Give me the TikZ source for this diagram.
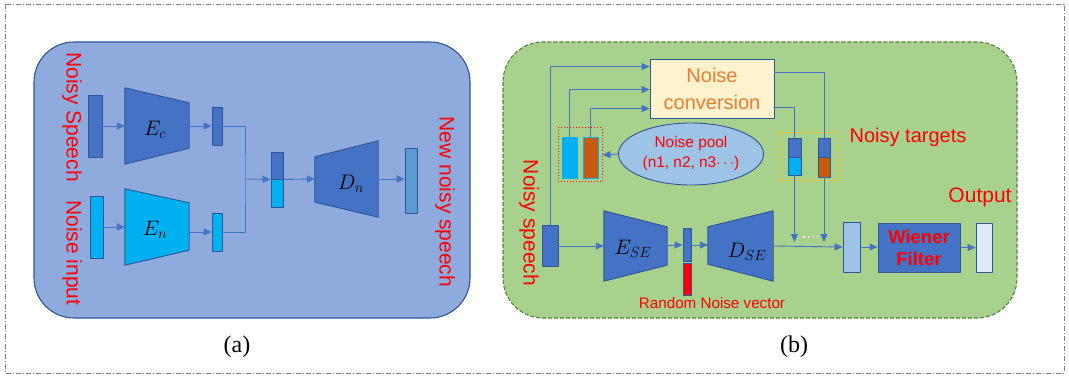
\RequirePackage{fix-cm}
\documentclass[tikz,border=0pt]{standalone}
\usepackage{fontspec}
\setmainfont{Liberation Sans}
\newfontfamily\serfont{Liberation Serif}
\usetikzlibrary{arrows.meta,calc,shapes.geometric}
\definecolor{blueA}{HTML}{4472C4}
\definecolor{bdr}{HTML}{2F5597}
\definecolor{cyanA}{HTML}{00B0F0}
\definecolor{panelA}{HTML}{8FAADC}
\definecolor{panelB}{HTML}{A9D18E}
\definecolor{panelBd}{HTML}{548235}
\definecolor{outA}{HTML}{5B9BD5}
\definecolor{orangeA}{HTML}{C55A11}
\definecolor{convfill}{HTML}{FFF2CC}
\definecolor{convtext}{HTML}{ED7D31}
\definecolor{lblue}{HTML}{9DC3E6}
\definecolor{vlblue}{HTML}{DEEBF7}
\definecolor{yellowA}{HTML}{FFC000}
\definecolor{redA}{HTML}{FF0000}
\definecolor{frame}{HTML}{808080}
\tikzset{
  bar/.style={draw=bdr, line width=0.9pt, inner sep=0pt},
  trap/.style={inner sep=0pt, minimum width=#1},
  conn/.style={draw=blueA, line width=0.9pt},
  arr/.style={conn, -{Triangle[length=8pt,width=7pt]}},
  redtxt/.style={text=redA, inner sep=0pt},
  rottxt/.style={redtxt, rotate=-90, font=\fontsize{21}{24}\selectfont},
  mlabel/.style={inner sep=0pt, font=\fontsize{21}{24}\selectfont},
}
\begin{document}
\begin{tikzpicture}[x=1pt,y=-1pt,line join=round]
\useasboundingbox (0,0) rectangle (1069,377);
% outer frame
\draw[frame, line width=0.8pt, dash pattern=on 5pt off 2pt on 1pt off 2pt] (5,4) rectangle (1064,373);

% ================= panel (a) =================
\draw[fill=panelA, draw=bdr, line width=1.1pt, rounded corners=40pt] (34,42) rectangle (470,318);
\node[rottxt] (tns) at (72,117) {Noisy Speech};
\node[rottxt] (tni) at (72,253) {Noise input};
\node[rottxt] (tnn) at (445,202) {New noisy speech};

\node[bar, fill=blueA, minimum width=14pt, minimum height=62pt] (ns) at (95,126) {};
\node[bar, fill=cyanA, minimum width=13pt, minimum height=62pt] (ni) at (96.5,227) {};

\node[trap=64pt, minimum height=76pt] (ec) at (157,126) {};
\draw[fill=blueA, draw=bdr, line width=0.9pt] (ec.north west) -- ([yshift=-15pt]ec.north east) -- ([yshift=16pt]ec.south east) -- (ec.south west) -- cycle;
\node[mlabel] (ecl) at (155,130) {$E_c$};

\node[trap=64pt, minimum height=76pt] (en) at (157,227) {};
\draw[fill=cyanA, draw=bdr, line width=0.9pt] (en.north west) -- ([yshift=-14pt]en.north east) -- ([yshift=15pt]en.south east) -- (en.south west) -- cycle;
\node[mlabel] (enl) at (155,230) {$E_n$};

\node[bar, fill=blueA, minimum width=10pt, minimum height=38pt] (zc) at (217,126) {};
\node[bar, fill=cyanA, minimum width=10pt, minimum height=38pt] (zn) at (217,232) {};

\node[bar, fill=blueA, minimum width=12pt, minimum height=27pt] (cc1) at (277,165.5) {};
\node[bar, fill=cyanA, minimum width=12pt, minimum height=28pt] (cc2) at (277,193) {};

\node[trap=63pt, minimum height=76pt] (dn) at (346.5,179) {};
\draw[fill=blueA, draw=bdr, line width=0.9pt] ([yshift=-16pt]dn.north west) -- (dn.north east) -- (dn.south east) -- ([yshift=15pt]dn.south west) -- cycle;
\node[mlabel] (dnl) at (351,184) {$D_n$};

\node[bar, fill=outA, minimum width=12pt, minimum height=65pt] (oa) at (411,180.5) {};

\coordinate (j) at (245,179);
\draw[arr] (ns.east) -- (ec.west |- ns.east);
\draw[arr] (ni.east) -- (en.west |- ni.east);
\draw[arr] (ec.east |- zc.west) -- (zc.west);
\draw[arr] (en.east |- zn.west) -- (zn.west);
\draw[conn] (zc.east) -| (j) |- (zn.east);
\draw[arr] (j) -- (cc1.south west);
\draw[arr] (cc1.south east) -- (dn.west);
\draw[arr] (dn.east) -- (oa.west |- dn.east);

\node[font=\serfont\fontsize{24}{28}\selectfont, inner sep=0pt] (la) at (237,347) {(a)};

% ================= panel (b) =================
\draw[fill=panelB, draw=panelBd, line width=1.1pt, dash pattern=on 4pt off 2pt, rounded corners=40pt] (503,42) rectangle (1017,318);

\node[bar, fill=convfill, minimum width=124pt, minimum height=59pt, align=center, text=convtext, font=\fontsize{20}{27}\selectfont] (conv) at (712,88.5) {Noise\\conversion};

\node[rottxt] (tnsb) at (529,223) {Noisy speech};
\node[bar, fill=blueA, minimum width=16pt, minimum height=41pt] (nsb) at (550,246) {};

\node[trap=63pt, minimum height=70pt] (ese) at (635.5,246) {};
\draw[fill=blueA, draw=bdr, line width=0.9pt] (ese.north west) -- ([yshift=-16pt]ese.north east) -- ([yshift=16pt]ese.south east) -- (ese.south west) -- cycle;
\node[mlabel] (esel) at (633,249) {$E_{SE}$};

\node[bar, fill=blueA, minimum width=8pt, minimum height=33pt] (lat) at (687,245) {};
\node[bar, fill=redA, minimum width=8pt, minimum height=32pt] (rnd) at (687,279) {};
\node[redtxt, font=\fontsize{15.2}{17}\selectfont] (trnd) at (712,303) {Random Noise vector};

\node[trap=65pt, minimum height=70pt] (dse) at (740.5,246) {};
\draw[fill=blueA, draw=bdr, line width=0.9pt] ([yshift=-16pt]dse.north west) -- (dse.north east) -- (dse.south east) -- ([yshift=17pt]dse.south west) -- cycle;
\node[mlabel] (dsel) at (747,252) {$D_{SE}$};

\node[bar, fill=lblue, minimum width=17pt, minimum height=50pt] (mid) at (851.5,247) {};
\node[bar, fill=blueA, minimum width=82pt, minimum height=49pt, align=center, text=redA, font=\bfseries\fontsize{18.5}{22}\selectfont] (wf) at (919,247.5) {Wiener\\Filter};
\node[bar, fill=vlblue, minimum width=16pt, minimum height=49pt] (outb) at (984,247.5) {};
\node[redtxt, font=\fontsize{21}{24}\selectfont] (tout) at (980,197) {Output};

\node[ellipse, draw=bdr, line width=0.9pt, fill=lblue, minimum width=145pt, minimum height=62pt, inner sep=0pt, align=center, text=redA, font=\fontsize{15.4}{20}\selectfont] (pool) at (691,154) {Noise pool\\(n1, n2, n3$\cdots$)};

\node[draw=redA, line width=1pt, dotted, minimum width=44pt, minimum height=54pt, inner sep=0pt] (rbox) at (580,155) {};
\node[draw=cyanA, line width=0.9pt, fill=cyanA, minimum width=15pt, minimum height=41pt, inner sep=0pt] (cyr) at (569.5,157.5) {};
\node[draw=cyanA, line width=0.9pt, fill=orangeA, minimum width=15pt, minimum height=41pt, inner sep=0pt] (orr) at (590.5,157.5) {};

\node[draw=yellowA, line width=1pt, dash pattern=on 3pt off 2pt, minimum width=61pt, minimum height=48pt, inner sep=0pt] (ybox) at (808.5,157) {};
\node[bar, fill=blueA, minimum width=13pt, minimum height=19pt] (t1a) at (794.5,147.5) {};
\node[bar, fill=cyanA, minimum width=13pt, minimum height=18pt] (t1b) at (794.5,166) {};
\node[bar, fill=blueA, minimum width=12pt, minimum height=19pt] (t2a) at (824,147.5) {};
\node[bar, fill=orangeA, minimum width=12pt, minimum height=20pt] (t2b) at (824,167) {};
\node[redtxt, font=\fontsize{20}{24}\selectfont] (tnt) at (908,137) {Noisy targets};

\coordinate (d1) at (794.5,242);
\coordinate (d2) at (824,242);

% connectors (b)
\draw[arr] (nsb.north) |- ([yshift=-8pt]conv.north west);
\draw[arr] (cyr.north) |- ([yshift=-31pt]conv.north west);
\draw[arr] (orr.north) |- ([yshift=-50pt]conv.north west);
\draw[arr] (pool.west) -- (rbox.east);
\draw[conn] ([yshift=-14pt]conv.north east) -| (t2a.north);
\draw[conn] ([yshift=-49pt]conv.north east) -| (t1a.north);
\draw[arr] (t1b.south) -- (d1);
\draw[arr] (t2b.south) -- (d2);
\draw[arr] (nsb.east) -- (ese.west |- nsb.east);
\draw[arr] (ese.east |- lat.west) -- (lat.west);
\draw[arr] (lat.east) -- (dse.west |- lat.east);
\draw[arr] (dse.east) -- (mid.west);
\draw[arr] (mid.east) -- (wf.west |- mid.east);
\draw[arr] (wf.east) -- (outb.west);
\draw[white, line width=1.6pt, dash pattern=on 1.6pt off 3.2pt] (803,237) -- (818,237);

\node[font=\serfont\fontsize{24}{28}\selectfont, inner sep=0pt] (lb) at (794,347) {(b)};
\end{tikzpicture}
\end{document}
